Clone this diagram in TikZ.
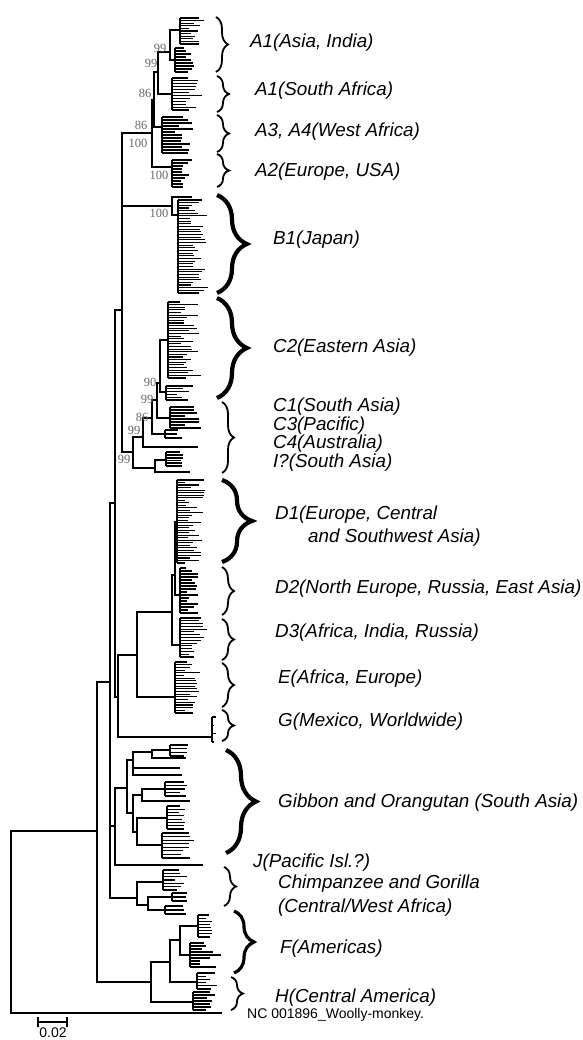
\documentclass[tikz,border=0pt]{standalone}
\usepackage{fontspec}
\setmainfont{Liberation Sans}
\newfontfamily\bootfont{Liberation Serif}
\usetikzlibrary{decorations.pathreplacing}

% one comb of leaves: [style]{x}{ytop}{ybot}{n}{xmin}{xmax}
\newcommand{\leafcomb}[7][tree]{%
  \draw[#1] (#2,#3) -- (#2,#4);
  \pgfmathsetmacro{\combstep}{(#4-#3)/(#5-1)}
  \foreach \k in {1,...,#5}{
    \pgfmathsetmacro{\ly}{#3+(\k-1)*\combstep}
    \pgfmathsetmacro{\lx}{#6+rnd*(#7-#6)}
    \draw[#1] (#2,\ly) -- (\lx,\ly);
  }}

\begin{document}
\begin{tikzpicture}[x=1pt, y=-1pt,
    tree/.style={line width=1.1pt},
    thk/.style={line width=1.8pt},
    grp/.style={anchor=west, inner sep=0pt, font=\fontsize{18.8}{21}\selectfont\itshape},
    boot/.style={inner sep=0pt, text=black!60, font=\bootfont\fontsize{12.5}{14}\selectfont},
    smallbrace/.style={decorate, decoration={brace, amplitude=12pt}, line width=1.8pt},
    bigbrace/.style={decorate, decoration={brace, amplitude=30pt}, line width=4.2pt}]
  \useasboundingbox (0,0) rectangle (582,1040);
  \pgfmathsetseed{11}

  % Backbone and inner nodes (x, level of the branch)
  \coordinate (root) at (11,922);
  \coordinate (n1) at (97,831);
  \coordinate (n2) at (110,682);
  \coordinate (nU) at (115,503);
  \coordinate (nABC) at (122,310);
  \coordinate (nA) at (152,133);
  \coordinate (nA13) at (154,100);
  \coordinate (nA1) at (158,72);
  \coordinate (nA1a) at (170,52);
  \coordinate (cA1x) at (180,30);
  \coordinate (cA1y) at (175,60);
  \coordinate (nA1b) at (172,94);
  \coordinate (nA34) at (162,127);
  \coordinate (nA2) at (172,167);
  \coordinate (nB) at (172,206);
  \coordinate (lB) at (192,197);
  \coordinate (cB) at (178,215);
  \coordinate (nC) at (133,452);
  \coordinate (nC99b) at (143,437);
  \coordinate (nC86) at (152,418);
  \coordinate (nC99c) at (157,400);
  \coordinate (nC90) at (160,383);
  \coordinate (cC2a) at (168,340);
  \coordinate (cC2b) at (166,392);
  \coordinate (cC1) at (170,418);
  \coordinate (cC3) at (165,434);
  \coordinate (lC4) at (198,447);
  \coordinate (nI) at (155,468);
  \coordinate (cI) at (166,460);
  \coordinate (lI) at (190,472);
  \coordinate (nDEG) at (118,697);
  \coordinate (nDE) at (137,655);
  \coordinate (nD) at (172,612);
  \coordinate (nD12) at (175,575);
  \coordinate (cD1) at (177,522);
  \coordinate (cD2) at (180,595);
  \coordinate (cD3) at (180,645);
  \coordinate (cE) at (175,697);
  \coordinate (cG) at (212,737);
  \coordinate (nGJ) at (115,826);
  \coordinate (lJ) at (203,865);
  \coordinate (nGib) at (127,788);
  \coordinate (g1) at (133,760);
  \coordinate (g1a) at (152,752);
  \coordinate (cg1) at (170,750);
  \coordinate (lg1) at (186,758);
  \coordinate (lg2) at (180,768);
  \coordinate (lg3) at (182,775);
  \coordinate (g2) at (133,813);
  \coordinate (g2a) at (142,795);
  \coordinate (cg2) at (165,789);
  \coordinate (lg4) at (190,801);
  \coordinate (g2b) at (137,832);
  \coordinate (cg3) at (167,818);
  \coordinate (cg4) at (162,845);
  \coordinate (nCh) at (137,898);
  \coordinate (cCh1) at (163,882);
  \coordinate (nCh2) at (148,905);
  \coordinate (cCh2) at (172,897);
  \coordinate (cCh3) at (165,910);
  \coordinate (nFH) at (151,982);
  \coordinate (nF) at (170,962);
  \coordinate (nF1) at (180,940);
  \coordinate (cF1a) at (198,926);
  \coordinate (cF1b) at (190,955);
  \coordinate (cF2) at (197,982);
  \coordinate (cH) at (193,1002);
  \coordinate (lW) at (222,1013);

  % Branches
  \foreach \p/\c in {root/n1, root/lW, n1/n2, n1/nFH, n2/nU, n2/nGJ, n2/nCh,
      nU/nABC, nU/nDEG, nABC/nB, nABC/nC, nA1/nA1a, nA1/nA1b, nA1a/cA1x, nA1a/cA1y,
      nB/lB, nB/cB, nC/nC99b, nC99b/nC86, nC99b/lC4, nC86/nC99c, nC86/cC3,
      nC99c/nC90, nC99c/cC1, nC90/cC2a, nC90/cC2b, nDEG/nDE, nDEG/cG, nDE/nD,
      nDE/cE, nD/nD12, nD/cD3, nD12/cD1, nD12/cD2, nGJ/nGib, nGJ/lJ, nGib/g1,
      nGib/g2, g1/g1a, g1/lg2, g1/lg3, g1a/cg1, g1a/lg1, g2/g2a, g2/g2b, g2a/cg2,
      g2a/lg4, g2b/cg3, g2b/cg4, nCh/cCh1, nCh/nCh2, nCh2/cCh2, nCh2/cCh3,
      nFH/nF, nFH/cH, nF/nF1, nF/cF2, nF1/cF1a, nF1/cF1b}
    \draw[tree] (\p) |- (\c);
  \foreach \p/\c in {nABC/nA, nA/nA13, nA/nA2, nA13/nA1, nA13/nA34, nC/nI, nI/cI, nI/lI}
    \draw[thk] (\p) |- (\c);

  % Leaf combs: x/ytop/ybot/n/xmin/xmax
  \foreach \cx/\ya/\yb/\nn/\xa/\xb in {180/18/44/11/188/205, 175/48/72/9/182/195,
      172/78/110/12/185/203, 172/160/187/10/180/195, 178/200/293/36/188/210,
      168/302/378/30/180/202, 166/386/400/6/176/195, 170/407/428/8/185/203,
      165/430/438/3/175/183, 177/480/563/34/185/205, 180/568/613/16/186/202,
      180/618/657/15/188/207, 175/662/713/20/183/200, 212/717/742/4/213/216,
      170/745/756/4/183/190, 165/782/796/5/178/188, 167/806/829/8/178/190,
      162/833/858/8/180/195, 163/870/890/7/175/190, 172/893/901/3/185/190,
      165/906/914/3/180/188, 198/915/937/8/205/213, 190/943/967/9/200/222,
      197/973/989/6/205/218, 193/992/1010/7/205/215}
    \leafcomb{\cx}{\ya}{\yb}{\nn}{\xa}{\xb};
  \foreach \cx/\ya/\yb/\nn/\xa/\xb in {162/117/153/13/175/195, 166/452/466/6/178/185}
    \leafcomb[thk]{\cx}{\ya}{\yb}{\nn}{\xa}{\xb};

  % Bootstrap values
  \node[boot] (b1) at (160,48) {99};
  \node[boot] (b2) at (151,63) {99};
  \node[boot] (b3) at (145,93) {86};
  \node[boot] (b4) at (141,125) {86};
  \node[boot] (b5) at (138,143) {100};
  \node[boot] (b6) at (159,175) {100};
  \node[boot] (b7) at (159,213) {100};
  \node[boot] (b8) at (150,382) {90};
  \node[boot] (b9) at (147,399) {99};
  \node[boot] (b10) at (142,417) {86};
  \node[boot] (b11) at (134,430) {99};
  \node[boot] (b12) at (124,459) {99};

  % Braces
  \draw[smallbrace] (216,17) -- (216,72);
  \draw[smallbrace] (217,76) -- (217,112);
  \draw[smallbrace] (217,115) -- (217,152);
  \draw[smallbrace] (217,154) -- (217,187);
  \draw[bigbrace] (217,195) -- (217,293);
  \draw[bigbrace] (217,298) -- (217,398);
  \draw[smallbrace] (222,402) -- (222,473);
  \draw[bigbrace] (222,480) -- (222,562);
  \draw[smallbrace] (222,567) -- (222,615);
  \draw[smallbrace] (222,619) -- (222,660);
  \draw[smallbrace] (222,663) -- (222,707);
  \draw[smallbrace] (222,710) -- (222,741);
  \draw[bigbrace] (226,750) -- (226,853);
  \draw[smallbrace] (224,867) -- (224,906);
  \draw[decorate, decoration={brace, amplitude=20pt}, line width=3.2pt] (234,911) -- (234,973);
  \draw[smallbrace] (231,977) -- (231,1010);

  % Group labels
  \node[grp] (lbA1) at (250,43) {A1(Asia, India)};
  \node[grp] (lbA1s) at (255,91) {A1(South Africa)};
  \node[grp] (lbA3) at (255,132) {A3, A4(West Africa)};
  \node[grp] (lbA2) at (255,172) {A2(Europe, USA)};
  \node[grp] (lbB1) at (273,240) {B1(Japan)};
  \node[grp] (lbC2) at (273,348) {C2(Eastern Asia)};
  \node[grp] (lbC1) at (273,407) {C1(South Asia)};
  \node[grp] (lbC3) at (273,426) {C3(Pacific)};
  \node[grp] (lbC4) at (273,444) {C4(Australia)};
  \node[grp] (lbI) at (273,463) {I?(South Asia)};
  \node[grp] (lbD1) at (275,515) {D1(Europe, Central};
  \node[grp] (lbD1b) at (308,538) {and Southwest Asia)};
  \node[grp] (lbD2) at (275,589) {D2(North Europe, Russia, East Asia)};
  \node[grp] (lbD3) at (275,633) {D3(Africa, India, Russia)};
  \node[grp] (lbE) at (278,679) {E(Africa, Europe)};
  \node[grp] (lbG) at (278,722) {G(Mexico, Worldwide)};
  \node[grp] (lbGib) at (278,803) {Gibbon and Orangutan (South Asia)};
  \node[grp] (lbJ) at (253,863) {J(Pacific Isl.?)};
  \node[grp] (lbCh) at (278,884) {Chimpanzee and Gorilla};
  \node[grp] (lbCh2) at (278,908) {(Central/West Africa)};
  \node[grp] (lbF) at (280,949) {F(Americas)};
  \node[grp] (lbH) at (275,998) {H(Central America)};
  \node[anchor=west, inner sep=0pt, font=\fontsize{14}{16}\selectfont] (lbW) at (247,1015) {NC 001896\_Woolly-monkey.};

  % Scale bar
  \draw[line width=1.6pt, |-|] (37,1022) -- (68,1022);
  \node[inner sep=0pt, font=\fontsize{14}{16}\selectfont] (sc) at (53,1033) {0.02};
\end{tikzpicture}
\end{document}
